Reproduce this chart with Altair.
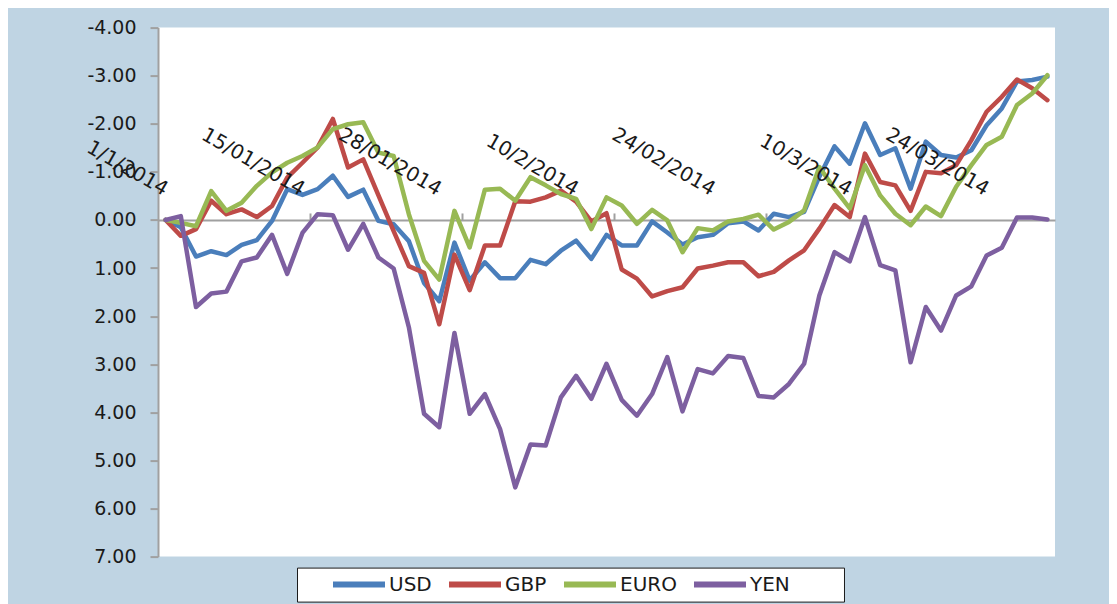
import altair as alt
import pandas as pd

series_names = ["USD", "GBP", "EURO", "YEN"]
series_colors = ["#4A7EBB", "#BE4B48", "#98B954", "#7D5FA0"]

dates = [
    "1/1/2014", "2/01/2014", "3/01/2014", "6/01/2014", "7/01/2014", "8/01/2014",
    "9/01/2014", "10/01/2014", "14/01/2014", "15/01/2014", "16/01/2014", "17/01/2014",
    "20/01/2014", "21/01/2014", "22/01/2014", "23/01/2014", "24/01/2014", "27/01/2014",
    "28/01/2014", "29/01/2014", "30/01/2014", "31/01/2014", "3/02/2014", "4/02/2014",
    "5/02/2014", "6/02/2014", "7/02/2014", "10/2/2014", "11/02/2014", "12/02/2014",
    "13/02/2014", "14/02/2014", "18/02/2014", "19/02/2014", "20/02/2014", "21/02/2014",
    "24/02/2014", "25/02/2014", "26/02/2014", "27/02/2014", "28/02/2014", "4/03/2014",
    "5/03/2014", "6/03/2014", "7/03/2014", "10/3/2014", "11/03/2014", "12/03/2014",
    "13/03/2014", "14/03/2014", "18/03/2014", "19/03/2014", "20/03/2014", "21/03/2014",
    "24/03/2014", "25/03/2014", "26/03/2014", "27/03/2014", "28/03/2014",
]

usd = [
    0.00, 0.15, 0.76, 0.65, 0.73, 0.52, 0.42, 0.02, -0.64, -0.52,
    -0.64, -0.92, -0.48, -0.63, 0.02, 0.09, 0.44, 1.31, 1.69, 0.47,
    1.26, 0.88, 1.21, 1.21, 0.83, 0.92, 0.64, 0.43, 0.81, 0.31,
    0.53, 0.53, 0.03, 0.26, 0.51, 0.36, 0.31, 0.07, 0.03, 0.22,
    -0.13, -0.06, -0.17, -0.90, -1.53, -1.17, -2.01, -1.35, -1.49, -0.65,
    -1.63, -1.35, -1.30, -1.45, -1.97, -2.32, -2.88, -2.91, -2.98,
]
gbp = [
    0.00, 0.33, 0.19, -0.40, -0.12, -0.22, -0.06, -0.29, -0.88, -1.19,
    -1.51, -2.10, -1.09, -1.26, -0.51, 0.23, 0.96, 1.10, 2.17, 0.72,
    1.46, 0.53, 0.53, -0.39, -0.38, -0.47, -0.61, -0.38, 0.03, -0.14,
    1.03, 1.22, 1.59, 1.48, 1.40, 1.01, 0.95, 0.88, 0.88, 1.17,
    1.08, 0.84, 0.63, 0.18, -0.31, -0.06, -1.38, -0.79, -0.72, -0.19,
    -1.00, -0.97, -1.14, -1.66, -2.25, -2.56, -2.92, -2.74, -2.49,
]
euro = [
    0.00, 0.06, 0.13, -0.60, -0.19, -0.36, -0.71, -0.99, -1.19, -1.33,
    -1.51, -1.89, -1.99, -2.03, -1.40, -1.33, -0.12, 0.85, 1.24, -0.19,
    0.57, -0.63, -0.65, -0.40, -0.89, -0.72, -0.54, -0.44, 0.19, -0.47,
    -0.30, 0.08, -0.21, 0.01, 0.67, 0.17, 0.22, 0.03, -0.02, -0.11,
    0.20, 0.04, -0.20, -1.10, -0.65, -0.24, -1.14, -0.51, -0.13, 0.11,
    -0.28, -0.08, -0.69, -1.14, -1.56, -1.73, -2.39, -2.63, -3.01,
]
yen = [
    0.00, -0.08, 1.81, 1.53, 1.49, 0.86, 0.78, 0.31, 1.12, 0.27,
    -0.12, -0.10, 0.62, 0.08, 0.78, 1.01, 2.23, 4.03, 4.31, 2.35,
    4.03, 3.62, 4.35, 5.56, 4.67, 4.69, 3.69, 3.24, 3.72, 2.99,
    3.74, 4.07, 3.62, 2.85, 3.98, 3.10, 3.19, 2.83, 2.87, 3.66,
    3.69, 3.41, 2.99, 1.57, 0.67, 0.86, -0.06, 0.94, 1.05, 2.96,
    1.81, 2.30, 1.57, 1.38, 0.74, 0.58, -0.05, -0.05, -0.01,
]

y_ticks = [-4, -3, -2, -1, 0, 1, 2, 3, 4, 5, 6, 7]
x_tick_marks = [9.5, 19.5, 29.5, 39.5, 49.5]
label_step = 9

# ---- tables -------------------------------------------------------------
rows = []
for name, vals in zip(series_names, [usd, gbp, euro, yen]):
    for i, (d, v) in enumerate(zip(dates, vals)):
        rows.append({"idx": i, "date": d, "value": v, "series": name})
df = pd.DataFrame(rows)

lab_df = pd.DataFrame(
    [{"idx": i, "date": dates[i]} for i in range(0, len(dates), label_step)]
)

W, H = 897, 529
FONT = "DejaVu Sans"
GRAY = "#A0A0A0"
INK = "#1a1a1a"

x_scale = alt.Scale(domain=[-0.5, len(dates) - 0.5], nice=False, zero=False)
y_scale = alt.Scale(domain=[-4, 7], reverse=True, nice=False, zero=False)

x_axis = alt.Axis(
    orient="top", offset=-(H * 4 / 11), values=x_tick_marks, labels=False,
    domainColor=GRAY, domainWidth=2, tickColor=GRAY, tickWidth=2, tickSize=7,
    grid=False, title=None,
)
y_axis = alt.Axis(
    values=y_ticks,
    labelExpr="(datum.value < 0 ? '-' : '') + format(abs(datum.value), '.2f')",
    domainColor=GRAY, domainWidth=2, tickColor=GRAY, tickWidth=2, tickSize=8,
    labelPadding=14, labelFont=FONT, labelFontSize=19, labelColor=INK,
    grid=False, title=None,
)

nb = "\u00a0"
tail = nb * 5 + "\u2800"
legend = alt.Legend(
    orient="none", legendX=139, legendY=540, direction="horizontal",
    title=nb, titleOrient="left", titlePadding=26, titleFontSize=20, titleFont=FONT,
    symbolType="stroke", symbolSize=2704, symbolStrokeWidth=6, clipHeight=20,
    labelFont=FONT, labelFontSize=20, labelColor=INK, labelOffset=1,
    columnPadding=14, padding=7, fillColor="white", strokeColor=INK,
    labelExpr="datum.label == 'YEN' ? datum.label + '" + tail + "' : datum.label",
)

lines = alt.Chart(df).mark_line(
    strokeWidth=4.5, strokeJoin="round", strokeCap="round"
).encode(
    x=alt.X("idx:Q", scale=x_scale, axis=x_axis),
    y=alt.Y("value:Q", scale=y_scale, axis=y_axis),
    color=alt.Color(
        "series:N",
        scale=alt.Scale(domain=series_names, range=series_colors),
        sort=series_names,
        legend=legend,
    ),
    order=alt.Order("idx:Q"),
)

labels = alt.Chart(lab_df).mark_text(
    angle=30, align="right", baseline="alphabetic", dx=-14, dy=-19.5,
    font=FONT, fontSize=20, color=INK,
).encode(
    x=alt.X("idx:Q", scale=x_scale, axis=x_axis),
    y=alt.datum(0),
    text="date:N",
)

chart = alt.layer(lines, labels).properties(
    width=W, height=H,
    autosize="none",
    padding={"left": 150, "top": 19.6, "right": 54, "bottom": 60},
    background="#BFD4E3",
).configure_view(fill="white", strokeWidth=0)

chart.save("out.html", embed_options={"renderer": "svg", "actions": False})
